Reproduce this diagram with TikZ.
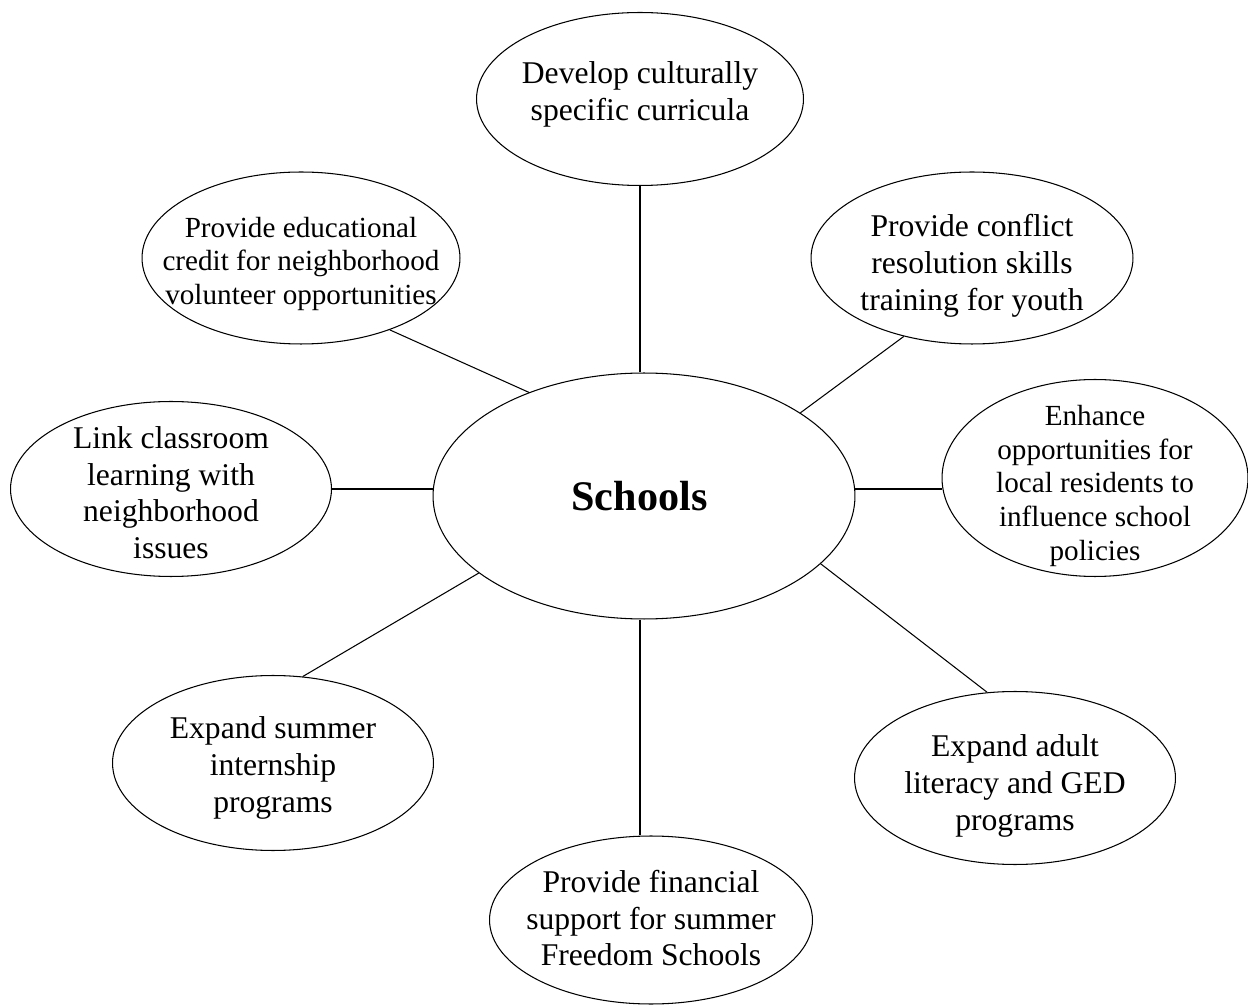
\documentclass[tikz,border=0pt]{standalone}
\usepackage{fontspec}
\setmainfont{Liberation Serif}
\usepackage{tikz}
\usetikzlibrary{shapes.geometric}
\usetikzlibrary{calc}
\newcommand{\bubtxt}[2][-0.47em]{\makebox[0pt]{\smash{\raisebox{#1}{\begin{tabular}{@{}c@{}}#2\end{tabular}}}}}

\begin{document}
\begin{tikzpicture}[x=0.02cm, y=-0.02cm, line width=0.6pt,
		bubble/.style={ellipse, draw, inner sep=0pt, minimum width=6.42cm, minimum height=3.46cm, font=\fontsize{18}{20.9}\selectfont},
		smallbubble/.style={bubble, font=\fontsize{16.6}{19.2}\selectfont}]
		\useasboundingbox (0,0) rectangle (1248,1006);
		%coordinates
		\coordinate (CS)   at (644,496);
		\coordinate (CCur) at (640,99);
		\coordinate (CEdu) at (301,258);
		\coordinate (CCon) at (972,258);
		\coordinate (CLnk) at (171,489);
		\coordinate (CEnh) at (1095,478);
		\coordinate (CInt) at (273,763);
		\coordinate (CAdl) at (1015,778);
		\coordinate (CFin) at (651,920);

		%nodes
		\node[ellipse, draw, inner sep=0pt, minimum width=8.44cm, minimum height=4.92cm, font=\fontsize{24}{28}\selectfont\bfseries] (S) at (CS) {\hspace*{-0.18cm}Schools};
		\node[bubble, minimum width=6.54cm] (Cur) at (CCur) {\bubtxt[-0.1em]{Develop culturally\\specific curricula}};
		\node[smallbubble, minimum width=6.36cm, minimum height=3.44cm] (Edu) at (CEdu) {\bubtxt{Provide educational\\credit for neighborhood\\volunteer opportunities}};
		\node[bubble, minimum width=6.44cm, minimum height=3.44cm] (Con) at (CCon) {\bubtxt[-0.5em]{Provide conflict\\resolution skills\\training for youth}};
		\node[bubble, minimum height=3.5cm] (Lnk) at (CLnk) {\bubtxt{Link classroom\\learning with\\neighborhood\\issues}};
		\node[smallbubble, minimum width=6.12cm, minimum height=3.94cm] (Enh) at (CEnh) {\bubtxt[-0.54em]{Enhance\\opportunities for\\local residents to\\influence school\\policies}};
		\node[bubble, minimum height=3.5cm] (Int) at (CInt) {\bubtxt[-0.4em]{Expand summer\\internship\\programs}};
		\node[bubble] (Adl) at (CAdl) {\bubtxt[-0.5em]{Expand adult\\literacy and GED\\programs}};
		\node[bubble, minimum width=6.46cm, minimum height=3.36cm] (Fin) at (CFin) {\bubtxt[-0.3em]{Provide financial\\support for summer\\Freedom Schools}};

		%spokes
		\draw (Cur.south) -- (Cur.south |- S.north);
		\draw (Edu.-39) -- (S.138.7);
		\draw (Con.229.7) -- (S.28);
		\draw (Lnk.east) -- (Lnk.east -| S.west);
		\draw (S.east |- Lnk.east) -- (Enh.west |- Lnk.east);
		\draw (Int.71.6) -- (S.205.7);
		\draw (Adl.108.6) -- (S.-21.4);
		\draw (Cur.south |- S.south) -- (Cur.south |- Fin.north);
\end{tikzpicture}
\end{document}
